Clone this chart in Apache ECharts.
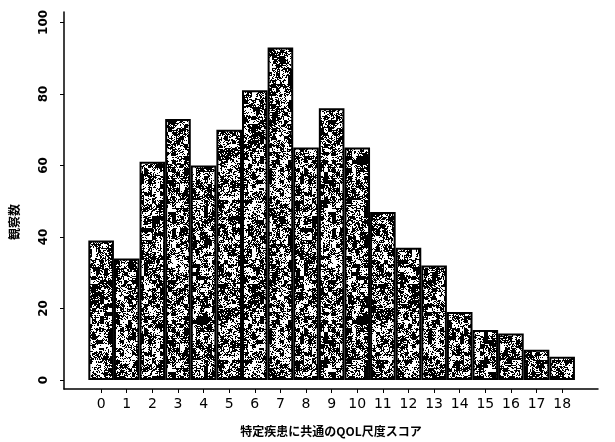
<!DOCTYPE html>
<html>
<head>
<meta charset="utf-8">
<script src="https://cdn.jsdelivr.net/npm/echarts@6/dist/echarts.min.js"></script>
<style>
  html, body { margin: 0; padding: 0; background: #fff; }
  #chart { width: 615px; height: 442px; }
</style>
</head>
<body>
<div id="chart"></div>
<script>
// スコア (0-18) と観察数
var scores = [0, 1, 2, 3, 4, 5, 6, 7, 8, 9, 10, 11, 12, 13, 14, 15, 16, 17, 18];
var counts = [39, 34, 61, 73, 60, 70, 81, 93, 65, 76, 65, 47, 37, 32, 19, 14, 13, 8.5, 6.5];
var yTicks = [0, 20, 40, 60, 80, 100];

// scanned stipple texture for the bars (fixed hash, no randomness)
function cellHash(i, j, s) {
    var n = Math.imul(i + s, 73856093) ^ Math.imul(j + 7 * s, 19349663) ^ Math.imul(s, 83492791);
    n ^= n >>> 16;
    n = Math.imul(n, 0x85ebca6b);
    n ^= n >>> 13;
    n = Math.imul(n, 0xc2b2ae35);
    n ^= n >>> 16;
    return (n >>> 0) / 4294967296;
}
function stipple() {
    var size = 160;
    var c = document.createElement('canvas');
    c.width = size; c.height = size;
    var ctx = c.getContext('2d');
    ctx.fillStyle = '#fff';
    ctx.fillRect(0, 0, size, size);
    ctx.fillStyle = '#000';
    for (var i = 0; i < size; i++) {
        for (var j = 0; j < size; j++) {
            // mix of fine and coarse grain so specks clump a little
            var v = 0.5 * cellHash(i, j, 1) + 0.5 * cellHash(i >> 2, j >> 2, 3);
            if (v < 0.53) ctx.fillRect(i, j, 1, 1);
        }
    }
    return c;
}

var chart = echarts.init(document.getElementById('chart'));
var data = [];
for (var i = 0; i < scores.length; i++) {
    data.push([scores[i], counts[i]]);
}

var option = {
    animation: false,
    grid: {left: 64, right: 17, top: 12, bottom: 52},
    graphic: [{
        type: 'text',
        x: 14, y: 222,
        rotation: Math.PI / 2,
        style: {
            text: '観察数',
            fontFamily: 'Noto Sans CJK JP', fontWeight: 'bold', fontSize: 12, fill: '#000',
            align: 'center', verticalAlign: 'middle'
        }
    }],
    xAxis: {
        type: 'value',
        min: -1.45,
        max: 19.4,
        name: '特定疾患に共通のQOL尺度スコア',
        nameLocation: 'middle',
        nameGap: 36,
        nameTextStyle: {fontFamily: 'Noto Sans CJK JP', fontWeight: 'bold', fontSize: 12, color: '#000'},
        axisLine: {onZero: false, lineStyle: {color: '#000', width: 1.5}},
        axisTick: {customValues: scores, length: 4, lineStyle: {color: '#000'}},
        axisLabel: {customValues: scores, color: '#000', fontSize: 14, fontFamily: 'DejaVu Sans', margin: 8},
        splitLine: {show: false}
    },
    yAxis: {
        type: 'value',
        min: -2.5,
        max: 102.9,
        axisLine: {onZero: false, lineStyle: {color: '#000', width: 1.5}},
        axisTick: {customValues: yTicks, length: 4, lineStyle: {color: '#000'}},
        axisLabel: {customValues: yTicks, rotate: 90, color: '#000', fontSize: 12, fontWeight: 'bold', fontFamily: 'DejaVu Sans', margin: 14},
        splitLine: {show: false}
    },
    series: [{
        type: 'bar',
        data: data,
        barWidth: 25.6,
        itemStyle: {
            color: {image: stipple(), repeat: 'repeat'},
            borderColor: '#000',
            borderWidth: 2
        }
    }]
};
chart.setOption(option);
</script>
</body>
</html>
